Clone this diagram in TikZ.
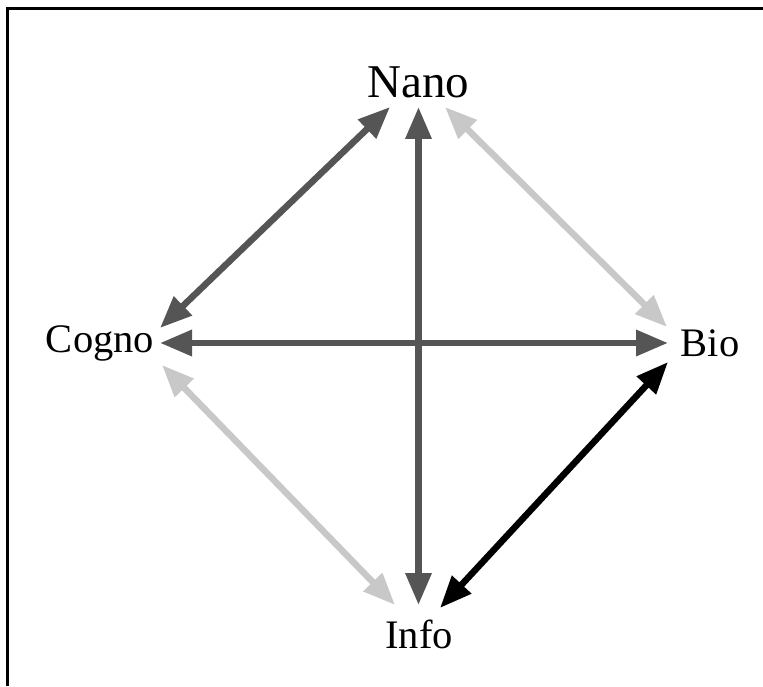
\documentclass[tikz,border=0pt]{standalone}
\usepackage{fontspec}
\setmainfont{Liberation Serif}
\usetikzlibrary{arrows.meta}
\definecolor{dkgray}{HTML}{555555}
\definecolor{ltgray}{HTML}{C8C8C8}

\begin{document}
\begin{tikzpicture}[
  x=1pt, y=1pt,
  field/.style={inner sep=0pt, anchor=base, font=\fontsize{40.5}{48}\selectfont},
  link/.style={{Triangle[length=32pt,width=25pt]}-{Triangle[length=32pt,width=25pt]}, line width=6.5pt},
  dk/.style={link, dkgray},
  lt/.style={link, ltgray},
  bk/.style={link, black}
]
\useasboundingbox (0,0) rectangle (763,686);
% ---------------- frame ----------------
\draw[line width=3pt] (7,0) -- (7,677) -- (763,677);
% ---------------- fields ----------------
\node[field, font=\fontsize{47}{56}\selectfont] (nano) at (418.5,588) {Nano};
\node[field] (cogno) at (100,333) {Cogno};
\node[field] (bio) at (710,329) {Bio};
\node[field] (info) at (419,38) {Info};
% ---------------- links ----------------
\draw[dk] ([shift={(-28.5,-9)}]nano.base) -- ([shift={(60,25)}]cogno.base);
\draw[dk] ([shift={(0,-9)}]nano.base) -- ([shift={(-0.5,43)}]info.base);
\draw[lt] ([shift={(26.5,-9)}]nano.base) -- ([shift={(-43,30)}]bio.base);
\draw[dk] ([shift={(60,10)}]cogno.base) -- ([shift={(-42,14)}]bio.base);
\draw[lt] ([shift={(62,-12)}]cogno.base) -- ([shift={(-24,43)}]info.base);
\draw[bk] ([shift={(-42,-5)}]bio.base) -- ([shift={(21,40)}]info.base);
\end{tikzpicture}
\end{document}
